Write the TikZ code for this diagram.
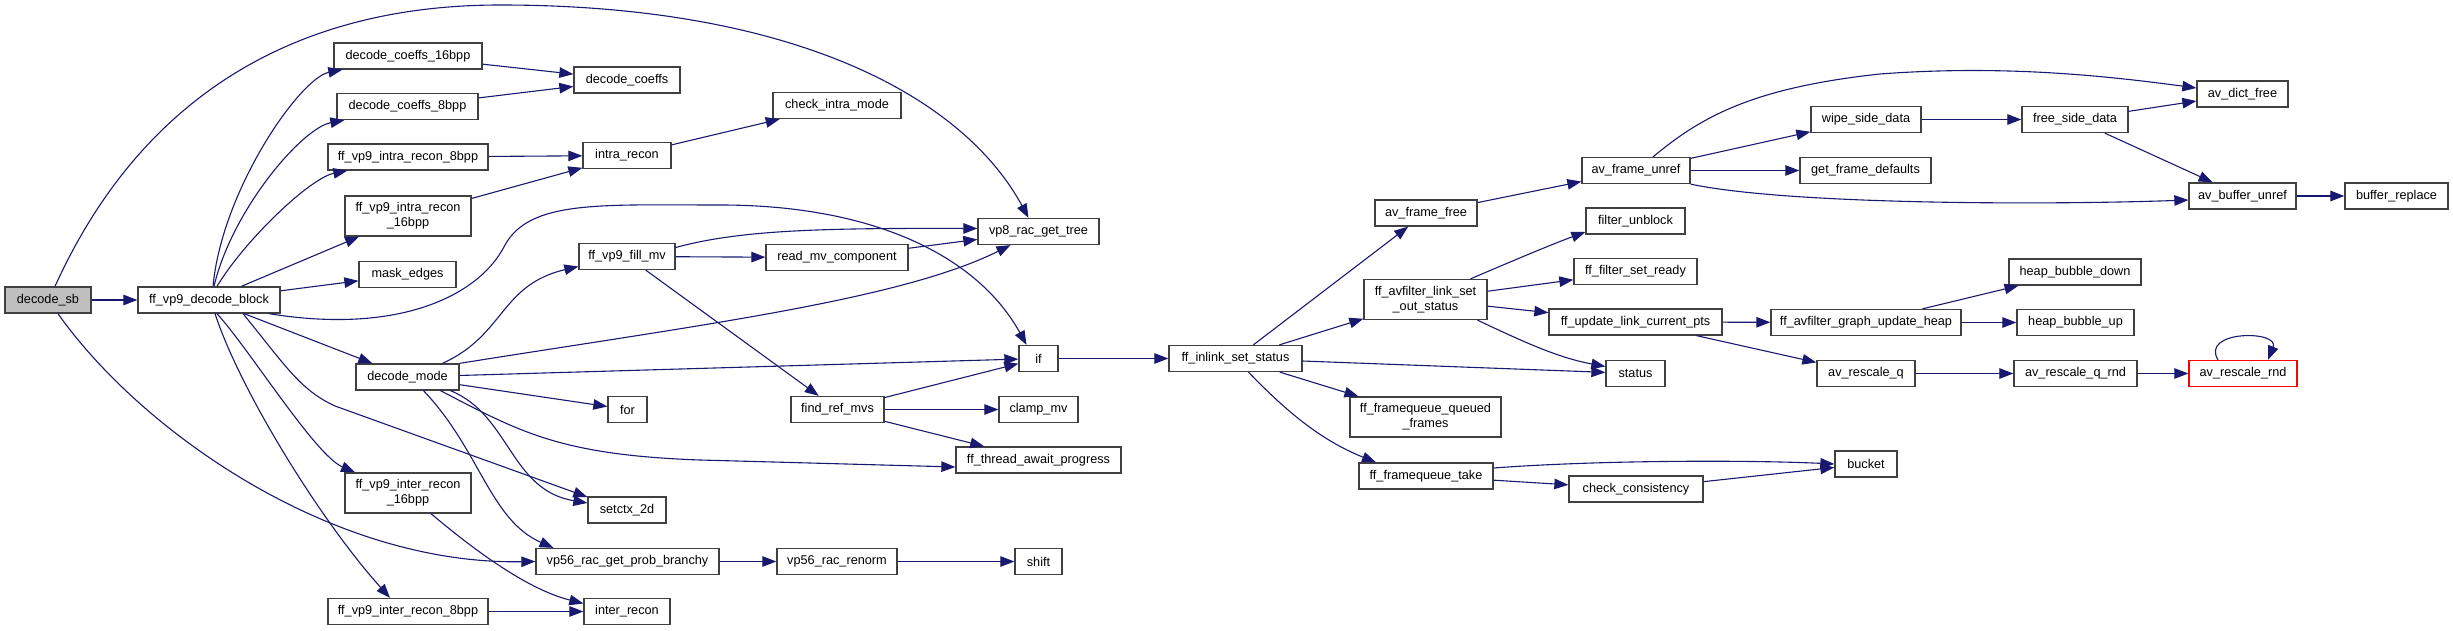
\documentclass[tikz,border=0pt]{standalone}
\usepackage{fontspec}
\setmainfont{Liberation Sans}
\usepackage{tikz}
\usetikzlibrary{arrows.meta}
\definecolor{edgeblue}{RGB}{25,25,112}
\definecolor{boxgray}{RGB}{64,64,64}
\definecolor{rootgray}{RGB}{191,191,191}
\definecolor{loopred}{RGB}{255,0,0}
\tikzset{
  fn/.style={rectangle, draw=boxgray, fill=white, line width=1.3pt,
    minimum height=26, inner sep=0pt, align=center,
    font=\fontsize{12.7}{15}\selectfont},
  fntwo/.style={fn, minimum height=40},
  rootfn/.style={fn, fill=rootgray},
  loopfn/.style={fn, draw=loopred},
  edge/.style={-{Triangle[length=14pt,width=10.5pt]}, line width=1.1pt, color=edgeblue}
}

\begin{document}
\begin{tikzpicture}[x=1pt,y=-1pt]
  \useasboundingbox (0,0) rectangle (2453,631);

  \node[rootfn, minimum width=86]  (decodesb)     at (48,300)      {decode\_sb};
  \node[fn, minimum width=142]     (decodeblock)  at (209,300)     {ff\_vp9\_decode\_block};
  \node[fn, minimum width=148]     (coeffs16)     at (408,56)      {decode\_coeffs\_16bpp};
  \node[fn, minimum width=141]     (coeffs8)      at (407.5,106.5) {decode\_coeffs\_8bpp};
  \node[fn, minimum width=160]     (intra8)       at (408,157)     {ff\_vp9\_intra\_recon\_8bpp};
  \node[fntwo, minimum width=126]  (intra16)      at (408,216)     {ff\_vp9\_intra\_recon\\\_16bpp};
  \node[fn, minimum width=97]      (maskedges)    at (407.5,274.5) {mask\_edges};
  \node[fn, minimum width=103]     (decodemode)   at (407.5,377)   {decode\_mode};
  \node[fntwo, minimum width=126]  (inter16)      at (408,493)     {ff\_vp9\_inter\_recon\\\_16bpp};
  \node[fn, minimum width=160]     (inter8)       at (408,611.5)   {ff\_vp9\_inter\_recon\_8bpp};
  \node[fn, minimum width=106]     (decodecoeffs) at (627,80)      {decode\_coeffs};
  \node[fn, minimum width=88]      (intrarecon)   at (627,155.5)   {intra\_recon};
  \node[fn, minimum width=96]      (fillmv)       at (627,256.5)   {ff\_vp9\_fill\_mv};
  \node[fn, minimum width=39]      (forloop)      at (627.5,409.5) {for};
  \node[fn, minimum width=78]      (setctx)       at (627,510)     {setctx\_2d};
  \node[fn, minimum width=183]     (branchy)      at (627.5,561.5) {vp56\_rac\_get\_prob\_branchy};
  \node[fn, minimum width=86]      (interrecon)   at (627,611.5)   {inter\_recon};
  \node[fn, minimum width=128]     (checkintra)   at (837,105.5)   {check\_intra\_mode};
  \node[fn, minimum width=142]     (readmv)       at (837,257.5)   {read\_mv\_component};
  \node[fn, minimum width=93]      (findref)      at (837.5,409.5) {find\_ref\_mvs};
  \node[fn, minimum width=120]     (renorm)       at (837,561.5)   {vp56\_rac\_renorm};
  \node[fn, minimum width=121]     (gettree)      at (1038.5,231.5) {vp8\_rac\_get\_tree};
  \node[fn, minimum width=39]      (ifcond)       at (1038.5,358.5) {if};
  \node[fn, minimum width=79]      (clampmv)      at (1038.5,409.5) {clamp\_mv};
  \node[fn, minimum width=165]     (awaitprog)    at (1038.5,460)   {ff\_thread\_await\_progress};
  \node[fn, minimum width=47]      (shift)        at (1038.5,561.5) {shift};
  \node[fn, minimum width=133]     (inlink)       at (1235.5,358.5) {ff\_inlink\_set\_status};
  \node[fn, minimum width=102]     (framefree)    at (1426,213)     {av\_frame\_free};
  \node[fntwo, minimum width=123]  (linkset)      at (1425.5,299.5) {ff\_avfilter\_link\_set\\\_out\_status};
  \node[fntwo, minimum width=151]  (queued)       at (1425.5,417)   {ff\_framequeue\_queued\\\_frames};
  \node[fn, minimum width=134]     (fqtake)       at (1426,476)     {ff\_framequeue\_take};
  \node[fn, minimum width=108]     (frameunref)   at (1636,170.5)   {av\_frame\_unref};
  \node[fn, minimum width=99]      (unblock)      at (1635.5,221)   {filter\_unblock};
  \node[fn, minimum width=123]     (setready)     at (1635.5,271.5) {ff\_filter\_set\_ready};
  \node[fn, minimum width=173]     (updatepts)    at (1635.5,322)   {ff\_update\_link\_current\_pts};
  \node[fn, minimum width=59]      (status)       at (1635.5,373.5) {status};
  \node[fn, minimum width=134]     (checkcons)    at (1636,489)     {check\_consistency};
  \node[fn, minimum width=110]     (wipeside)     at (1866,119.5)   {wipe\_side\_data};
  \node[fn, minimum width=131]     (framedefaults) at (1865.5,170.5) {get\_frame\_defaults};
  \node[fn, minimum width=190]     (updateheap)   at (1866,322.5)   {ff\_avfilter\_graph\_update\_heap};
  \node[fn, minimum width=98]      (rescaleq)     at (1866,373.5)   {av\_rescale\_q};
  \node[fn, minimum width=62]      (bucket)       at (1866,464)     {bucket};
  \node[fn, minimum width=106]     (freeside)     at (2075,119.5)   {free\_side\_data};
  \node[fn, minimum width=132]     (bubbledown)   at (2075,272)     {heap\_bubble\_down};
  \node[fn, minimum width=117]     (bubbleup)     at (2075.5,322.5) {heap\_bubble\_up};
  \node[fn, minimum width=123]     (rescaleqrnd)  at (2075.5,373.5) {av\_rescale\_q\_rnd};
  \node[fn, minimum width=91]      (dictfree)     at (2242.5,94)    {av\_dict\_free};
  \node[fn, minimum width=107]     (bufunref)     at (2242.5,196)   {av\_buffer\_unref};
  \node[loopfn, minimum width=108] (rescalernd)   at (2243,373.5)   {av\_rescale\_rnd};
  \node[fn, minimum width=103]     (bufreplace)   at (2396.5,196)   {buffer\_replace};

  \draw[edge] (decodesb) -- (decodeblock);
  \draw[edge] ([xshift=7]decodesb.north) .. controls (135,110) and (280,5) .. (500,5)
    .. controls (800,5) and (965,100) .. ([xshift=-10]gettree.north);
  \draw[edge] ([xshift=10]decodesb.south) .. controls (140,430) and (330,565) .. (branchy.west);
  \draw[edge] ([xshift=4]decodeblock.north) .. controls (222,190) and (300,78) .. ([xshift=9]coeffs16.south west);
  \draw[edge] ([xshift=5]decodeblock.north) .. controls (232,210) and (302,128) .. ([xshift=8]coeffs8.south west);
  \draw[edge] ([xshift=8]decodeblock.north) .. controls (245,240) and (310,178) .. ([xshift=20]intra8.south west);
  \draw[edge] (decodeblock) -- (intra16);
  \draw[edge] (decodeblock) -- (maskedges);
  \draw[edge] ([xshift=60]decodeblock.south) .. controls (400,335) and (480,295) .. (505,245)
    .. controls (530,200) and (600,205) .. (720,205)
    .. controls (880,205) and (980,260) .. ([xshift=-12]ifcond.north);
  \draw[edge] (decodeblock) -- (decodemode);
  \draw[edge] ([xshift=34]decodeblock.south) .. controls (285,365) and (300,390) .. (335,406) -- ([yshift=13]setctx.west);
  \draw[edge] ([xshift=8]decodeblock.south) .. controls (250,350) and (315,455) .. ([xshift=-53]inter16.north);
  \draw[edge] ([xshift=6]decodeblock.south) .. controls (240,390) and (320,520) .. ([xshift=-18]inter8.north);

  \draw[edge] (coeffs16) -- (decodecoeffs);
  \draw[edge] (coeffs8) -- (decodecoeffs);
  \draw[edge] (intra8) -- (intrarecon);
  \draw[edge] (intra16) -- (intrarecon);
  \draw[edge] (intrarecon) -- (checkintra);

  \draw[edge] ([xshift=35]decodemode.north) .. controls (505,335) and (500,285) .. ([yshift=-10]fillmv.west);
  \draw[edge] (decodemode.north east) .. controls (700,325) and (900,300) .. ([xshift=-28]gettree.south);
  \draw[edge] (decodemode) -- (ifcond);
  \draw[edge] (decodemode) -- (forloop);
  \draw[edge] ([xshift=43]decodemode.south) .. controls (510,415) and (510,490) .. ([yshift=7]setctx.west);
  \draw[edge] ([xshift=33]decodemode.south) .. controls (520,432) and (560,455) .. (700,460) -- ([yshift=-7]awaitprog.west);
  \draw[edge] ([xshift=16]decodemode.south) .. controls (480,450) and (490,520) .. ([xshift=-74]branchy.north);

  \draw[edge] ([yshift=9]fillmv.east) .. controls (740,230) and (820,228) .. ([yshift=3]gettree.west);
  \draw[edge] (fillmv) -- (readmv);
  \draw[edge] (fillmv) -- (findref);
  \draw[edge] (readmv) -- (gettree);
  \draw[edge] (findref) -- (ifcond);
  \draw[edge] (findref) -- (clampmv);
  \draw[edge] (findref) -- (awaitprog);
  \draw[edge] ([xshift=23]inter16.south) .. controls (480,555) and (530,590) .. ([yshift=8]interrecon.west);
  \draw[edge] (inter8) -- (interrecon);
  \draw[edge] (branchy) -- (renorm);
  \draw[edge] (renorm) -- (shift);
  \draw[edge] (ifcond) -- (inlink);

  \draw[edge] (inlink) -- (framefree);
  \draw[edge] (inlink) -- (linkset);
  \draw[edge] (inlink) -- (status);
  \draw[edge] (inlink) -- (queued);
  \draw[edge] ([xshift=13]inlink.south) .. controls (1285,410) and (1320,440) .. ([xshift=-50]fqtake.north);
  \draw[edge] (framefree) -- (frameunref);
  \draw[edge] ([xshift=45]linkset.north) .. controls (1510,262) and (1550,245) .. ([yshift=-11]unblock.west);
  \draw[edge] (linkset) -- (setready);
  \draw[edge] (linkset) -- (updatepts);
  \draw[edge] ([xshift=52]linkset.south) .. controls (1530,345) and (1560,358) .. ([yshift=7]status.west);
  \draw[edge] (updatepts) -- (updateheap);
  \draw[edge] (updatepts) -- (rescaleq);
  \draw[edge] (updateheap) -- (bubbledown);
  \draw[edge] (updateheap) -- (bubbleup);
  \draw[edge] (rescaleq) -- (rescaleqrnd);
  \draw[edge] (rescaleqrnd) -- (rescalernd);
  \draw[edge] ([xshift=-25]rescalernd.north) .. controls (2200,330) and (2280,330) .. ([xshift=25]rescalernd.north);
  \draw[edge] ([yshift=8]fqtake.east) .. controls (1600,460) and (1750,460) .. (bucket.west);
  \draw[edge] (fqtake) -- (checkcons);
  \draw[edge] (checkcons) -- (bucket);

  \draw[edge] ([xshift=17]frameunref.north) .. controls (1700,118) and (1750,88) .. (1880,74)
    .. controls (2000,65) and (2100,75) .. ([yshift=6]dictfree.west);
  \draw[edge] (frameunref) -- (wipeside);
  \draw[edge] (frameunref) -- (framedefaults);
  \draw[edge] (frameunref.south east) .. controls (1790,205) and (2050,205) .. ([yshift=-4]bufunref.west);
  \draw[edge] (wipeside) -- (freeside);
  \draw[edge] (freeside) -- (dictfree);
  \draw[edge] (freeside) -- (bufunref);
  \draw[edge] (bufunref) -- (bufreplace);
\end{tikzpicture}
\end{document}
